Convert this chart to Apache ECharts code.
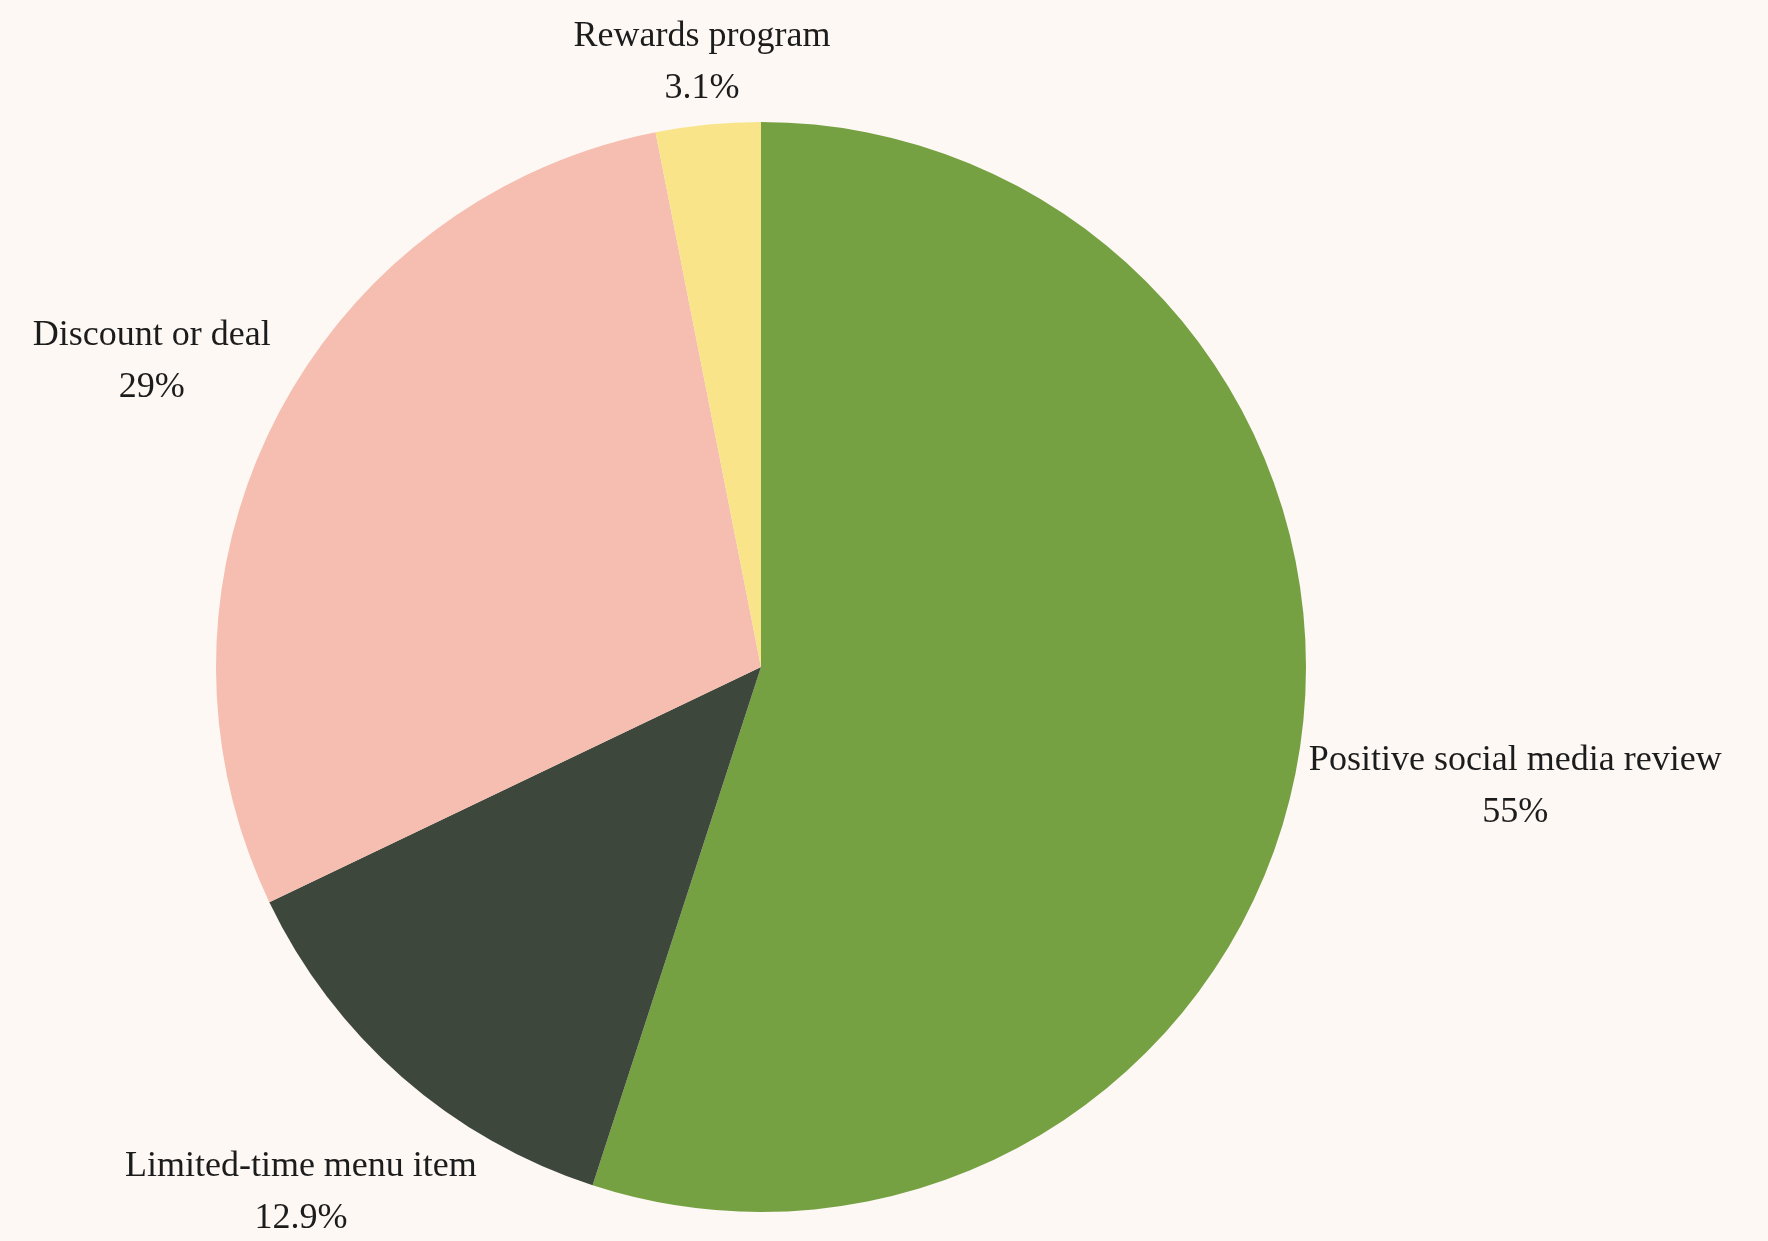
<!DOCTYPE html>
<html>
<head>
<meta charset="utf-8">
<script src="https://cdn.jsdelivr.net/npm/echarts@6/dist/echarts.min.js"></script>
<style>
html,body{margin:0;padding:0;background:#fdf8f4;}
#chart{width:1768px;height:1241px;}
</style>
</head>
<body>
<div id="chart"></div>
<script>
const categories = ['Positive social media review', 'Limited-time menu item', 'Discount or deal', 'Rewards program'];
const values = [55, 12.9, 29, 3.1];
const colors = ['#76a142', '#3d473c', '#f5beb0', '#f9e48a'];

const CX = 761, CY = 667, R = 545, GAP = 7;
const total = values.reduce((a, b) => a + b, 0);
const midAngles = [];
let acc = 0;
values.forEach(v => { midAngles.push((acc + v / 2) / total * 2 * Math.PI); acc += v; });

function placeLabel(i, w, h) {
  const th = midAngles[i];
  const dx = Math.sin(th), dy = -Math.cos(th);
  const distAt = s => {
    const cx = s * dx, cy = s * dy;
    const ex = Math.max(Math.abs(cx) - w / 2, 0);
    const ey = Math.max(Math.abs(cy) - h / 2, 0);
    return Math.sqrt(ex * ex + ey * ey);
  };
  let lo = 0, hi = 3000;
  for (let k = 0; k < 60; k++) {
    const mid = (lo + hi) / 2;
    if (distAt(mid) < R + GAP) lo = mid; else hi = mid;
  }
  return { x: CX + hi * dx, y: CY + hi * dy };
}

const chart = echarts.init(document.getElementById('chart'), null, { renderer: 'canvas' });
chart.setOption({
  backgroundColor: '#fdf8f4',
  animation: false,
  series: [{
    type: 'pie',
    center: [CX, CY],
    radius: R,
    startAngle: 90,
    clockwise: true,
    avoidLabelOverlap: false,
    data: categories.map((c, i) => ({ name: c, value: values[i], itemStyle: { color: colors[i] } })),
    label: {
      show: true,
      position: 'outside',
      formatter: '{b}\n{c}%',
      fontFamily: '"Liberation Serif", serif',
      fontSize: 36,
      lineHeight: 52,
      color: '#1c1c1c',
      align: 'center'
    },
    labelLine: { show: false },
    labelLayout: function (params) {
      const p = placeLabel(params.dataIndex, params.labelRect.width, params.labelRect.height);
      return { x: p.x, y: p.y, align: 'center', verticalAlign: 'middle' };
    },
    emphasis: { disabled: true }
  }]
});
</script>
</body>
</html>
